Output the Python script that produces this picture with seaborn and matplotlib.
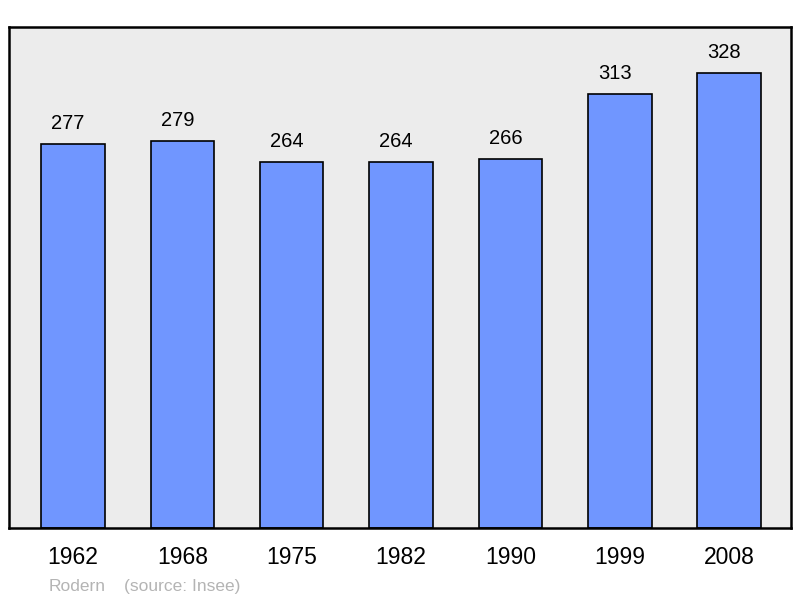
import matplotlib
matplotlib.use('Agg')
import pandas as pd
import matplotlib.pyplot as plt
import seaborn as sns

years = ['1962', '1968', '1975', '1982', '1990', '1999', '2008']
population = [277, 279, 264, 264, 266, 313, 328]

df = pd.DataFrame({'year': years, 'pop': population})

sns.set_style('white')
plt.rcParams['font.family'] = ['Liberation Sans', 'DejaVu Sans']

fig = plt.figure(figsize=(8, 5.98), dpi=100)
ax = fig.add_axes([0.01125, 0.117, 0.9775, 0.838])
ax.set_facecolor('#ececec')

sns.barplot(data=df, x='year', y='pop', color='#7096ff', saturation=1,
            width=0.58, edgecolor='black', linewidth=1.2, ax=ax)

for i, v in enumerate(population):
    ax.annotate(str(v), (i, v), xytext=(-3.5, 7.5), textcoords='offset points',
                ha='center', va='bottom', fontsize=14.5, color='black')

ax.set_xlim(-0.585, 6.565)
ax.set_ylim(0, 361)
ax.set_xlabel('')
ax.set_ylabel('')
ax.set_yticks([])
ax.tick_params(axis='x', length=0, pad=13, labelsize=16.5, labelcolor='black')
for s in ax.spines.values():
    s.set_color('black')
    s.set_linewidth(1.8)

fig.text(0.061, 0.012, 'Rodern', color='#b4b4b4', fontsize=12.5)
fig.text(0.155, 0.012, '(source: Insee)', color='#b4b4b4', fontsize=12.5)

fig.savefig('out.png', dpi=100)
